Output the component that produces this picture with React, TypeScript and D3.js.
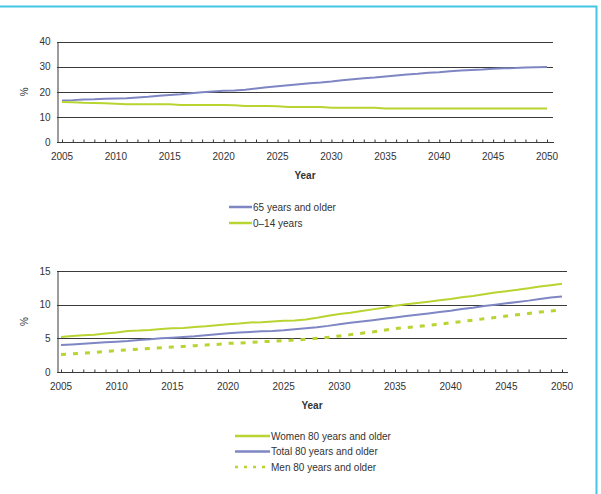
import React, { useEffect, useRef } from 'react';
import * as d3 from 'd3';

const years = d3.range(2005, 2051);
const majorYears = d3.range(2005, 2051, 5);

const aged65Plus = [
  16.6, 16.7, 16.9, 17.0, 17.2, 17.3, 17.4, 17.7, 18.0, 18.4,
  18.7, 19.0, 19.4, 19.8, 20.1, 20.4, 20.5, 20.8, 21.3, 21.8,
  22.2, 22.6, 23.0, 23.4, 23.7, 24.1, 24.6, 25.0, 25.4, 25.7,
  26.1, 26.5, 26.9, 27.2, 27.6, 27.8, 28.2, 28.5, 28.7, 28.9,
  29.2, 29.4, 29.5, 29.7, 29.8, 29.9,
];
const aged0to14 = [
  16.0, 15.9, 15.7, 15.6, 15.5, 15.3, 15.1, 15.1, 15.1, 15.1,
  15.1, 14.8, 14.8, 14.8, 14.8, 14.8, 14.7, 14.4, 14.4, 14.4,
  14.3, 14.0, 14.0, 14.0, 14.0, 13.7, 13.7, 13.7, 13.7, 13.7,
  13.4, 13.4, 13.4, 13.4, 13.4, 13.4, 13.4, 13.4, 13.4, 13.4,
  13.4, 13.4, 13.4, 13.4, 13.4, 13.4,
];

const women80Plus = [
  5.2, 5.35, 5.45, 5.55, 5.7, 5.85, 6.1, 6.15, 6.25, 6.4,
  6.5, 6.55, 6.7, 6.8, 6.95, 7.1, 7.2, 7.35, 7.4, 7.5,
  7.6, 7.65, 7.8, 8.05, 8.35, 8.6, 8.8, 9.05, 9.3, 9.55,
  9.85, 10.05, 10.25, 10.45, 10.65, 10.85, 11.1, 11.3, 11.55, 11.8,
  12.0, 12.2, 12.45, 12.7, 12.9, 13.1,
];
const total80Plus = [
  4.0, 4.1, 4.2, 4.3, 4.4, 4.5, 4.6, 4.75, 4.85, 5.0,
  5.1, 5.2, 5.3, 5.45, 5.6, 5.75, 5.85, 5.95, 6.05, 6.1,
  6.2, 6.35, 6.5, 6.65, 6.85, 7.1, 7.3, 7.5, 7.7, 7.9,
  8.1, 8.3, 8.5, 8.7, 8.9, 9.1, 9.35, 9.55, 9.8, 10.0,
  10.2, 10.4, 10.6, 10.85, 11.05, 11.2,
];
const men80Plus = [
  2.6, 2.7, 2.8, 2.9, 3.05, 3.2, 3.3, 3.4, 3.5, 3.6,
  3.7, 3.8, 3.9, 4.0, 4.1, 4.25, 4.3, 4.4, 4.5, 4.55,
  4.65, 4.75, 4.85, 5.0, 5.15, 5.35, 5.55, 5.75, 5.95, 6.2,
  6.45, 6.6, 6.75, 6.95, 7.1, 7.3, 7.5, 7.7, 7.9, 8.1,
  8.3, 8.5, 8.7, 8.9, 9.05, 9.2,
];

const topTicks = [0, 10, 20, 30, 40];
const bottomTicks = [0, 5, 10, 15];

const BLUE = '#7f86c4';
const GREEN = '#b7d431';
const TEXT = '#333';
const FONT = '"Liberation Sans", Arial, sans-serif';

interface Series {
  name: string;
  values: number[];
  color: string;
  dashed?: boolean;
}

interface PanelOpts {
  left: number;
  right: number;
  first: number; // x of 2005
  last: number; // x of 2050
  top: number;
  bottom: number;
  yMax: number;
  yTicks: number[];
  series: Series[];
  yearY: number;
  yearX: number;
  legendX: number;
  legendY: number;
  legendLine: number;
  legendStep: number;
}

function drawPanel(svg: d3.Selection<SVGSVGElement, unknown, null, undefined>, o: PanelOpts) {
  const g = svg.append('g');
  const x = d3.scaleLinear().domain([2005, 2050]).range([o.first, o.last]);
  const y = d3.scaleLinear().domain([0, o.yMax]).range([o.bottom, o.top]);

  // horizontal grid
  g.selectAll('line.grid')
    .data(o.yTicks.filter((t) => t > 0))
    .join('line')
    .attr('x1', o.left)
    .attr('x2', o.right)
    .attr('y1', (d) => Math.round(y(d)) + 0.5)
    .attr('y2', (d) => Math.round(y(d)) + 0.5)
    .attr('stroke', '#3a3a3a')
    .attr('stroke-width', 1);

  // y axis
  const yAxis = g.append('g').attr('transform', `translate(${o.left + 0.5},0)`)
    .call(d3.axisLeft(y).tickValues(o.yTicks).tickSize(0).tickPadding(7));
  yAxis.select('.domain').attr('stroke', '#3a3a3a');
  yAxis.selectAll('text').attr('font-size', 10).attr('fill', TEXT).attr('font-family', FONT);

  // x axis with yearly ticks pointing up
  const xAxis = g.append('g').attr('transform', `translate(0,${Math.round(o.bottom) + 0.5})`)
    .call(d3.axisTop(x).tickValues(years).tickSize(3).tickFormat(() => ''));
  xAxis.select('.domain').attr('d', `M${o.left},0H${o.right + 1}`).attr('stroke', '#3a3a3a');
  xAxis.selectAll('line').attr('stroke', '#3a3a3a');

  g.selectAll('text.year')
    .data(majorYears)
    .join('text')
    .attr('x', (d) => x(d))
    .attr('y', o.bottom + 18)
    .attr('text-anchor', 'middle')
    .attr('font-size', 10)
    .attr('fill', TEXT)
    .attr('font-family', FONT)
    .text((d) => d);

  g.append('text')
    .attr('transform', `translate(${o.left - 29},${y(o.yMax / 2)}) rotate(-90)`)
    .attr('text-anchor', 'middle')
    .attr('font-size', 10)
    .attr('fill', TEXT)
    .attr('font-family', FONT)
    .text('%');

  g.append('text')
    .attr('x', o.yearX)
    .attr('y', o.yearY)
    .attr('text-anchor', 'middle')
    .attr('font-size', 10)
    .attr('font-weight', 'bold')
    .attr('fill', TEXT)
    .attr('font-family', FONT)
    .text('Year');

  const line = d3.line<number>()
    .x((_, i) => x(years[i]))
    .y((d) => y(d));

  o.series.forEach((s) => {
    g.append('path')
      .datum(s.values)
      .attr('d', line)
      .attr('fill', 'none')
      .attr('stroke', s.color)
      .attr('stroke-width', s.dashed ? 3 : 2)
      .attr('stroke-dasharray', s.dashed ? '5,7' : null);
  });

  // legend
  const leg = g.append('g');
  o.series.forEach((s, i) => {
    const ly = o.legendY + i * o.legendStep;
    leg.append('line')
      .attr('x1', o.legendX)
      .attr('x2', o.legendX + o.legendLine)
      .attr('y1', ly)
      .attr('y2', ly)
      .attr('stroke', s.color)
      .attr('stroke-width', 2.5)
      .attr('stroke-dasharray', s.dashed ? '3,6' : null);
    leg.append('text')
      .attr('x', o.legendX + o.legendLine + 1)
      .attr('y', ly + 3.5)
      .attr('font-size', 10)
      .attr('fill', TEXT)
      .attr('font-family', FONT)
      .text(s.name);
  });
}

export default function App() {
  const svgRef = useRef<SVGSVGElement>(null);

  useEffect(() => {
    if (!svgRef.current) return;
    const svg = d3.select(svgRef.current);
    svg.selectAll('*').remove();

    svg.append('rect').attr('width', 601).attr('height', 494).attr('fill', '#fff');

    // frame
    svg.append('path')
      .attr('d', 'M0,6.5H596.5V494')
      .attr('fill', 'none')
      .attr('stroke', '#44c6e6')
      .attr('stroke-width', 2);

    drawPanel(svg, {
      left: 57,
      right: 553,
      first: 62,
      last: 547,
      top: 41.7,
      bottom: 142,
      yMax: 40,
      yTicks: topTicks,
      series: [
        { name: '65 years and older', values: aged65Plus, color: BLUE },
        { name: '0–14 years', values: aged0to14, color: GREEN },
      ],
      yearX: 305,
      yearY: 179,
      legendX: 229,
      legendY: 207,
      legendLine: 23,
      legendStep: 16,
    });

    drawPanel(svg, {
      left: 57,
      right: 567,
      first: 61,
      last: 562,
      top: 271,
      bottom: 372,
      yMax: 15,
      yTicks: bottomTicks,
      series: [
        { name: 'Women 80 years and older', values: women80Plus, color: GREEN },
        { name: 'Total 80 years and older', values: total80Plus, color: BLUE },
        { name: 'Men 80 years and older', values: men80Plus, color: GREEN, dashed: true },
      ],
      yearX: 312,
      yearY: 409,
      legendX: 235,
      legendY: 436,
      legendLine: 35,
      legendStep: 15.5,
    });
  }, []);

  return (
    <svg
      ref={svgRef}
      width={601}
      height={494}
      style={{ position: 'absolute', left: 0, top: 0 }}
    />
  );
}
